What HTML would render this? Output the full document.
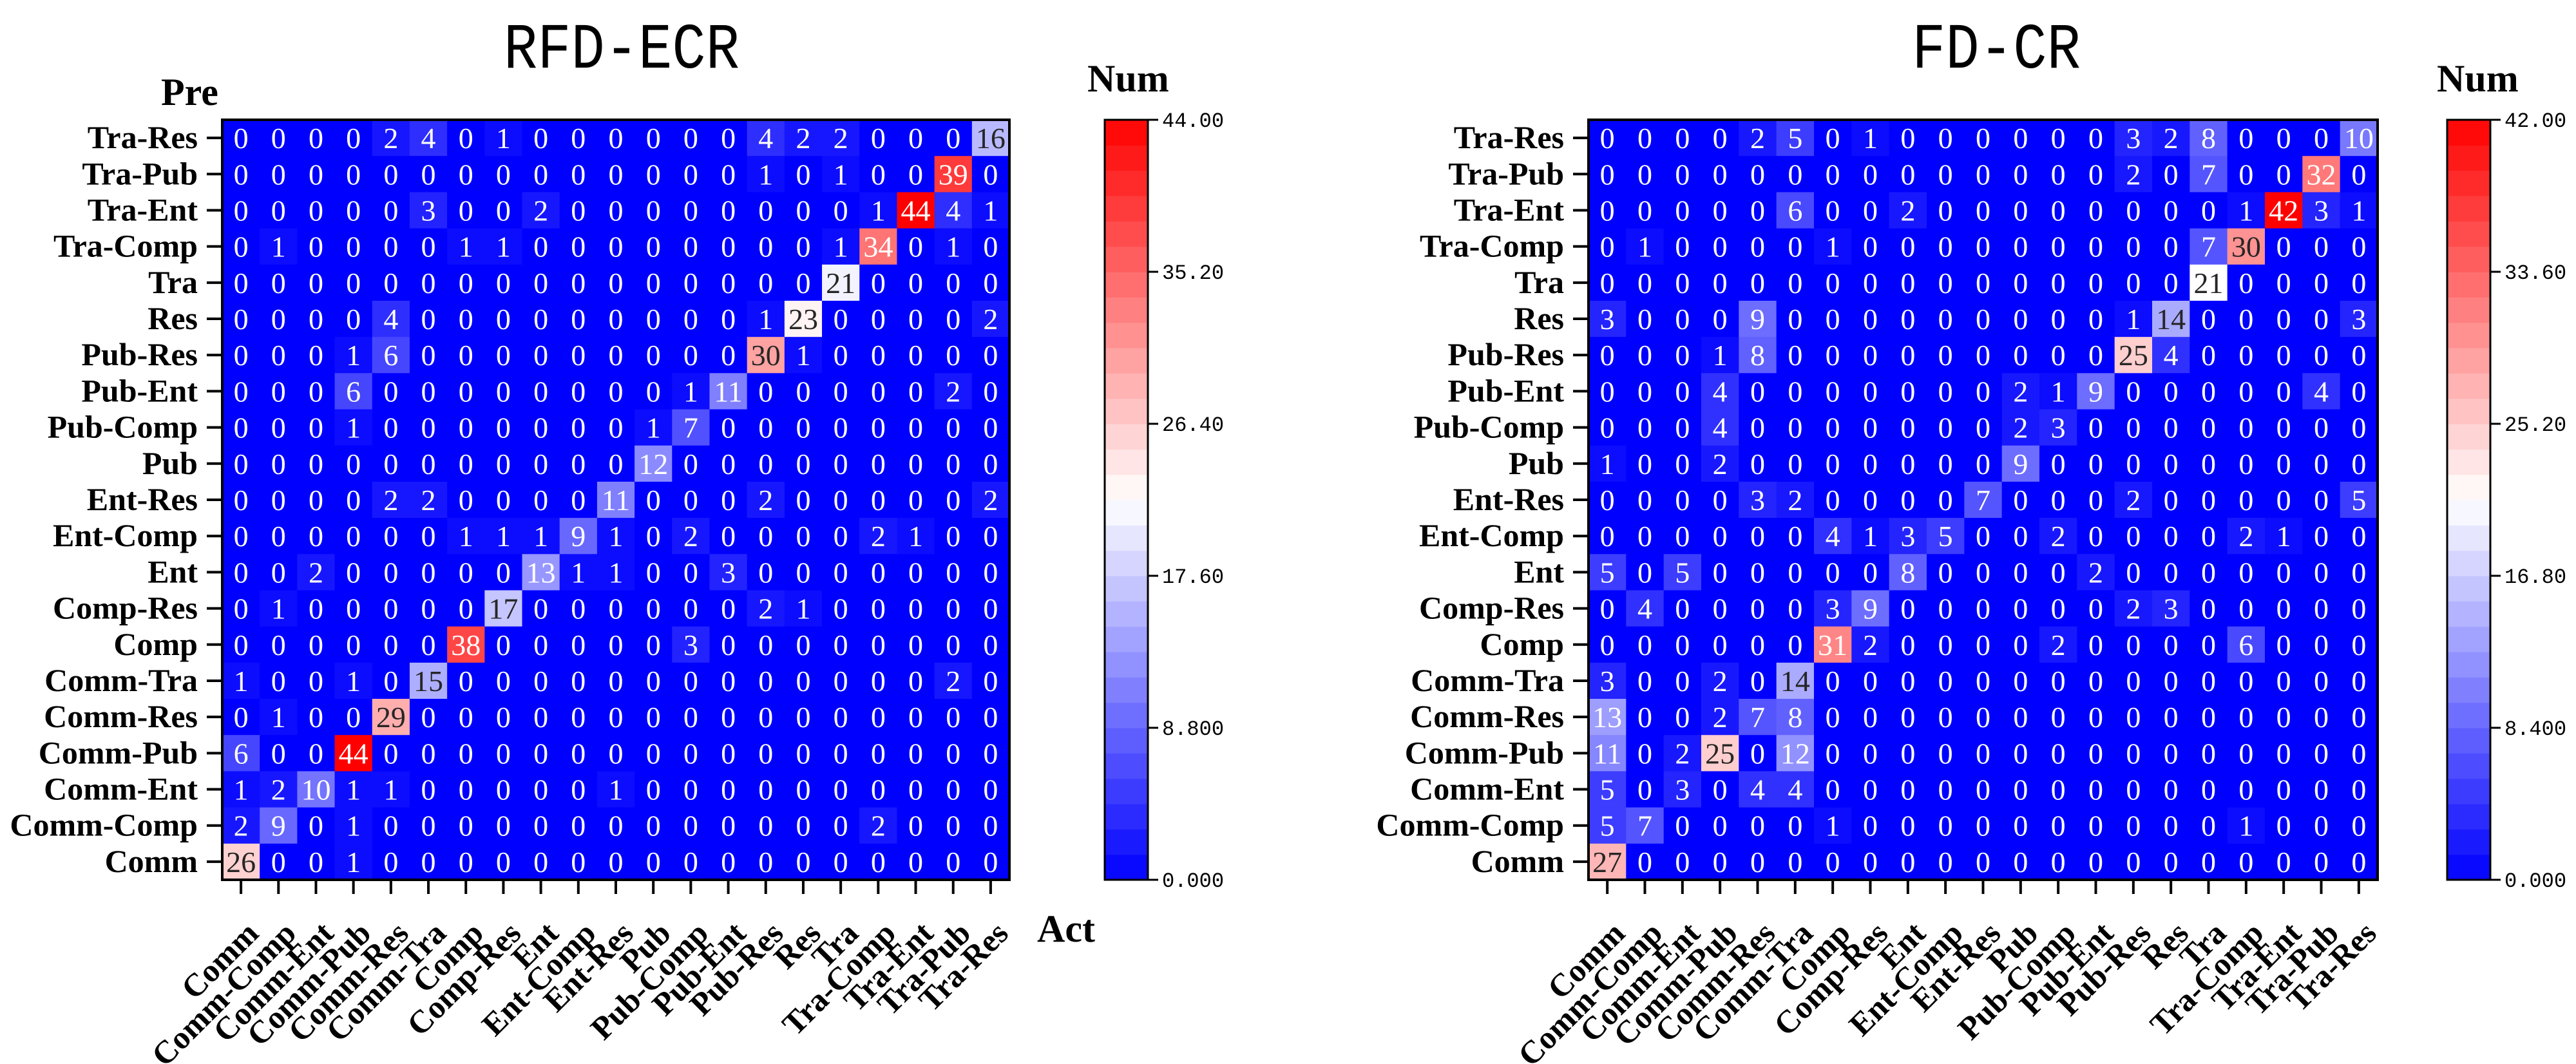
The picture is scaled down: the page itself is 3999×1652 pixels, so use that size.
<!DOCTYPE html>
<html><head><meta charset="utf-8">
<style>
html,body{margin:0;padding:0;background:#fff;}
svg{display:block;}
</style></head>
<body>
<svg id="fig" xmlns="http://www.w3.org/2000/svg" width="3999" height="1652" viewBox="0 0 3999 1652"></svg>
<script>
// categories (column order, bottom-to-top order for rows)
const categories = ["Comm","Comm-Comp","Comm-Ent","Comm-Pub","Comm-Res","Comm-Tra","Comp","Comp-Res","Ent","Ent-Comp","Ent-Res","Pub","Pub-Comp","Pub-Ent","Pub-Res","Res","Tra","Tra-Comp","Tra-Ent","Tra-Pub","Tra-Res"];
// rows listed top to bottom (Tra-Res ... Comm)
const rfdValues = [
[0,0,0,0,2,4,0,1,0,0,0,0,0,0,4,2,2,0,0,0,16],
[0,0,0,0,0,0,0,0,0,0,0,0,0,0,1,0,1,0,0,39,0],
[0,0,0,0,0,3,0,0,2,0,0,0,0,0,0,0,0,1,44,4,1],
[0,1,0,0,0,0,1,1,0,0,0,0,0,0,0,0,1,34,0,1,0],
[0,0,0,0,0,0,0,0,0,0,0,0,0,0,0,0,21,0,0,0,0],
[0,0,0,0,4,0,0,0,0,0,0,0,0,0,1,23,0,0,0,0,2],
[0,0,0,1,6,0,0,0,0,0,0,0,0,0,30,1,0,0,0,0,0],
[0,0,0,6,0,0,0,0,0,0,0,0,1,11,0,0,0,0,0,2,0],
[0,0,0,1,0,0,0,0,0,0,0,1,7,0,0,0,0,0,0,0,0],
[0,0,0,0,0,0,0,0,0,0,0,12,0,0,0,0,0,0,0,0,0],
[0,0,0,0,2,2,0,0,0,0,11,0,0,0,2,0,0,0,0,0,2],
[0,0,0,0,0,0,1,1,1,9,1,0,2,0,0,0,0,2,1,0,0],
[0,0,2,0,0,0,0,0,13,1,1,0,0,3,0,0,0,0,0,0,0],
[0,1,0,0,0,0,0,17,0,0,0,0,0,0,2,1,0,0,0,0,0],
[0,0,0,0,0,0,38,0,0,0,0,0,3,0,0,0,0,0,0,0,0],
[1,0,0,1,0,15,0,0,0,0,0,0,0,0,0,0,0,0,0,2,0],
[0,1,0,0,29,0,0,0,0,0,0,0,0,0,0,0,0,0,0,0,0],
[6,0,0,44,0,0,0,0,0,0,0,0,0,0,0,0,0,0,0,0,0],
[1,2,10,1,1,0,0,0,0,0,1,0,0,0,0,0,0,0,0,0,0],
[2,9,0,1,0,0,0,0,0,0,0,0,0,0,0,0,0,2,0,0,0],
[26,0,0,1,0,0,0,0,0,0,0,0,0,0,0,0,0,0,0,0,0]
];
const fdValues = [
[0,0,0,0,2,5,0,1,0,0,0,0,0,0,3,2,8,0,0,0,10],
[0,0,0,0,0,0,0,0,0,0,0,0,0,0,2,0,7,0,0,32,0],
[0,0,0,0,0,6,0,0,2,0,0,0,0,0,0,0,0,1,42,3,1],
[0,1,0,0,0,0,1,0,0,0,0,0,0,0,0,0,7,30,0,0,0],
[0,0,0,0,0,0,0,0,0,0,0,0,0,0,0,0,21,0,0,0,0],
[3,0,0,0,9,0,0,0,0,0,0,0,0,0,1,14,0,0,0,0,3],
[0,0,0,1,8,0,0,0,0,0,0,0,0,0,25,4,0,0,0,0,0],
[0,0,0,4,0,0,0,0,0,0,0,2,1,9,0,0,0,0,0,4,0],
[0,0,0,4,0,0,0,0,0,0,0,2,3,0,0,0,0,0,0,0,0],
[1,0,0,2,0,0,0,0,0,0,0,9,0,0,0,0,0,0,0,0,0],
[0,0,0,0,3,2,0,0,0,0,7,0,0,0,2,0,0,0,0,0,5],
[0,0,0,0,0,0,4,1,3,5,0,0,2,0,0,0,0,2,1,0,0],
[5,0,5,0,0,0,0,0,8,0,0,0,0,2,0,0,0,0,0,0,0],
[0,4,0,0,0,0,3,9,0,0,0,0,0,0,2,3,0,0,0,0,0],
[0,0,0,0,0,0,31,2,0,0,0,0,2,0,0,0,0,6,0,0,0],
[3,0,0,2,0,14,0,0,0,0,0,0,0,0,0,0,0,0,0,0,0],
[13,0,0,2,7,8,0,0,0,0,0,0,0,0,0,0,0,0,0,0,0],
[11,0,2,25,0,12,0,0,0,0,0,0,0,0,0,0,0,0,0,0,0],
[5,0,3,0,4,4,0,0,0,0,0,0,0,0,0,0,0,0,0,0,0],
[5,7,0,0,0,0,1,0,0,0,0,0,0,0,0,0,0,1,0,0,0],
[27,0,0,0,0,0,0,0,0,0,0,0,0,0,0,0,0,0,0,0,0]
];
const rfdTicks = ["0.000","8.800","17.60","26.40","35.20","44.00"];
const fdTicks = ["0.000","8.400","16.80","25.20","33.60","42.00"];
const rfdMax = 44;
const fdMax = 42;

const NS = "http://www.w3.org/2000/svg";
const svg = document.getElementById('fig');
function mk(tag, attrs, parent){
  const e = document.createElementNS(NS, tag);
  for (const k in attrs) e.setAttribute(k, attrs[k]);
  (parent||svg).appendChild(e);
  return e;
}
function bwr(t){
  t = Math.max(0, Math.min(1, t));
  let r,g,b;
  if (t < 0.5){ const s = t/0.5; r = 255*s; g = 255*s; b = 255; }
  else { const s = (t-0.5)/0.5; r = 255; g = 255*(1-s); b = 255*(1-s); }
  return [r,g,b];
}
function css(c){ return `rgb(${Math.round(c[0])},${Math.round(c[1])},${Math.round(c[2])})`; }
function lum(c){
  const f = v => { v/=255; return v<=0.03928? v/12.92 : Math.pow((v+0.055)/1.055,2.4); };
  return 0.2126*f(c[0])+0.7152*f(c[1])+0.0722*f(c[2]);
}

function drawChart(cfg){
  const g = mk('g', {});
  
  
  const n = categories.length;
  const cw = (cfg.x1-cfg.x0)/n, ch = (cfg.y1-cfg.y0)/n;
  const xScale = i => cfg.x0 + i*cw;
  const yScale = r => cfg.y0 + r*ch;
  const colorScale = v => bwr(v/cfg.vmax);
  const title = mk('text', {x:cfg.titleX, y:105, 'text-anchor':'middle', 'font-family':'Liberation Mono, monospace', 'font-size':100, textLength:cfg.titleW, lengthAdjust:'spacingAndGlyphs', fill:'#000'}, g);
  title.textContent = cfg.title;
  
  
  cfg.values.forEach((row, r) => {
    row.forEach((v, c) => {
      const col = colorScale(v);
      const rect = mk('rect', {x:xScale(c), y:yScale(r), width:cw+0.6, height:ch+0.6, fill:css(col)}, g);
      
      
      const t = mk('text', {x:xScale(c)+cw/2, y:yScale(r)+ch/2+16, 'text-anchor':'middle', 'font-family':'Liberation Serif, serif', 'font-size':46, fill: lum(col)>0.408 ? '#262626' : '#fff'}, g);
      t.textContent = v;
      
      
    });
  });
  mk('rect', {x:cfg.x0, y:cfg.y0, width:cfg.x1-cfg.x0, height:cfg.y1-cfg.y0, fill:'none', stroke:'#000', 'stroke-width':4}, g);
  for (let r=0; r<n; r++){
    const yc = yScale(r)+ch/2;
    mk('line', {x1:cfg.x0-24, x2:cfg.x0, y1:yc, y2:yc, stroke:'#000', 'stroke-width':4}, g);
    const t = mk('text', {x:cfg.x0-38, y:yc+16, 'text-anchor':'end', 'font-family':'Liberation Serif, serif', 'font-weight':'bold', 'font-size':50, fill:'#000'}, g);
    t.textContent = categories[n-1-r];
    
    
  }
  for (let c=0; c<n; c++){
    const xc = xScale(c)+cw/2;
    mk('line', {x1:xc, x2:xc, y1:cfg.y1, y2:cfg.y1+22, stroke:'#000', 'stroke-width':4}, g);
    const ax = xc+30, ay = 1452;
    const t = mk('text', {x:ax, y:ay, 'text-anchor':'end', transform:`rotate(-45 ${ax} ${ay})`, 'font-family':'Liberation Serif, serif', 'font-weight':'bold', 'font-size':50, fill:'#000'}, g);
    t.textContent = categories[c];
    
    
  }
  const cb = mk('g', {}, g);
  
  
  const bands = 30, bh = (cfg.y1-cfg.y0)/bands;
  for (let i=0; i<bands; i++){
    const tv = (i+0.5)/bands;
    mk('rect', {x:cfg.cbx0, y:cfg.y1-(i+1)*bh, width:cfg.cbx1-cfg.cbx0, height:bh+0.6, fill:css(bwr(tv))}, cb);
  }
  mk('rect', {x:cfg.cbx0, y:cfg.y0, width:cfg.cbx1-cfg.cbx0, height:cfg.y1-cfg.y0, fill:'none', stroke:'#000', 'stroke-width':3}, cb);
  cfg.ticks.forEach((lab, i) => {
    const y = cfg.y1 - (cfg.y1-cfg.y0)*i/(cfg.ticks.length-1);
    mk('line', {x1:cfg.cbx1, x2:cfg.cbx1+16, y1:y, y2:y, stroke:'#000', 'stroke-width':3}, cb);
    const t = mk('text', {x:cfg.cbx1+22, y:y+11, 'font-family':'Liberation Mono, monospace', 'font-size':32, fill:'#000'}, cb);
    t.textContent = lab;
    
    
  });
  const num = mk('text', {x:cfg.numX, y:142, 'font-family':'Liberation Serif, serif', 'font-weight':'bold', 'font-size':60, fill:'#000'}, g);
  num.textContent = 'Num';
  
  
}

drawChart({name:'rfd-ecr-heatmap', title:'RFD-ECR', titleX:965, titleW:366, values:rfdValues, vmax:rfdMax, ticks:rfdTicks,
  x0:345, x1:1567, y0:186, y1:1366, cbx0:1715, cbx1:1782, numX:1688});
drawChart({name:'fd-cr-heatmap', title:'FD-CR', titleX:3099, titleW:262, values:fdValues, vmax:fdMax, ticks:fdTicks,
  x0:2466, x1:3691, y0:186, y1:1366, cbx0:3799, cbx1:3866, numX:3783});

const pre = mk('text', {x:250, y:163, 'font-family':'Liberation Serif, serif', 'font-weight':'bold', 'font-size':60, fill:'#000'});
pre.textContent = 'Pre';


const act = mk('text', {x:1610, y:1462, 'font-family':'Liberation Serif, serif', 'font-weight':'bold', 'font-size':60, fill:'#000'});
act.textContent = 'Act';


</script>
</body></html>
